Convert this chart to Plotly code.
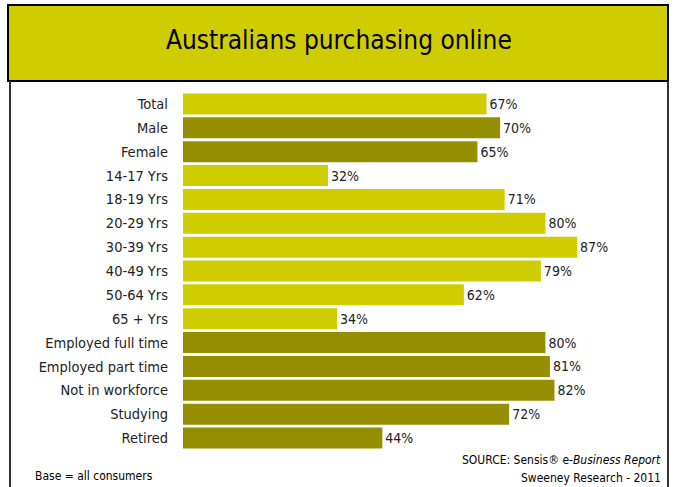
import plotly.graph_objects as go

categories = ["Total", "Male", "Female", "14-17 Yrs", "18-19 Yrs", "20-29 Yrs", "30-39 Yrs",
              "40-49 Yrs", "50-64 Yrs", "65 + Yrs", "Employed full time", "Employed part time",
              "Not in workforce", "Studying", "Retired"]
values = [67, 70, 65, 32, 71, 80, 87, 79, 62, 34, 80, 81, 82, 72, 44]
groups = ["total", "gender", "gender", "age", "age", "age", "age", "age", "age", "age",
          "work", "work", "work", "work", "work"]
group_colors = {"total": "#CFCC00", "age": "#CFCC00", "gender": "#958F00", "work": "#958F00"}

W, H = 675, 487
L, R, T, B = 183, 636, 92, 450
FONT = "DejaVu Sans Condensed, Liberation Sans Narrow, sans-serif"

def px(x):
    return (x - L) / (R - L)

def py(y):
    return (B - y) / (B - T)

fig = go.Figure(go.Bar(
    y=categories, x=values, orientation="h",
    marker=dict(color=[group_colors[g] for g in groups], line=dict(width=0)),
    text=[f"{v}%" for v in values], textposition="outside",
    textfont=dict(family=FONT, size=14, color="#222222"),
    cliponaxis=False, hoverinfo="skip",
))

shapes = [
    dict(type="rect", xref="paper", yref="paper", x0=px(8), x1=px(668), y0=py(81), y1=py(5),
         fillcolor="#CFCC00", line=dict(color="black", width=2), layer="below"),
    dict(type="line", xref="paper", yref="paper", x0=px(10), x1=px(10), y0=py(81), y1=py(490),
         line=dict(color="#333333", width=2)),
    dict(type="line", xref="paper", yref="paper", x0=px(668), x1=px(668), y0=py(81), y1=py(490),
         line=dict(color="#333333", width=2)),
]

annotations = [
    dict(text="Australians purchasing online", xref="paper", yref="paper", x=px(339), y=py(40),
         showarrow=False, font=dict(family=FONT, size=26, color="black"), xanchor="center", yanchor="middle"),
    dict(text="Base = all consumers", xref="paper", yref="paper", x=px(33), y=py(476),
         showarrow=False, font=dict(family=FONT, size=12, color="black"), xanchor="left", yanchor="middle"),
    dict(text="SOURCE: Sensis® e-<i>Business Report</i>", xref="paper", yref="paper", x=px(663), y=py(460),
         showarrow=False, font=dict(family=FONT, size=12, color="black"), xanchor="right", yanchor="middle"),
    dict(text="Sweeney Research - 2011", xref="paper", yref="paper", x=px(663), y=py(478),
         showarrow=False, font=dict(family=FONT, size=12, color="black"), xanchor="right", yanchor="middle"),
]

fig.update_layout(
    width=W, height=H,
    margin=dict(l=L, r=W - R, t=T, b=H - B, pad=0),
    paper_bgcolor="white", plot_bgcolor="white",
    bargap=0.12, showlegend=False,
    xaxis=dict(range=[0, 100], visible=False, fixedrange=True),
    yaxis=dict(autorange="reversed", showgrid=False, zeroline=False, showline=False,
               ticks="", ticklabelstandoff=14, fixedrange=True,
               tickfont=dict(family=FONT, size=14.5, color="#222222")),
    shapes=shapes, annotations=annotations,
)

fig.write_html("out.html", config={"displayModeBar": False, "staticPlot": True},
               post_script="document.body.style.margin='0';document.body.style.overflow='hidden';")
